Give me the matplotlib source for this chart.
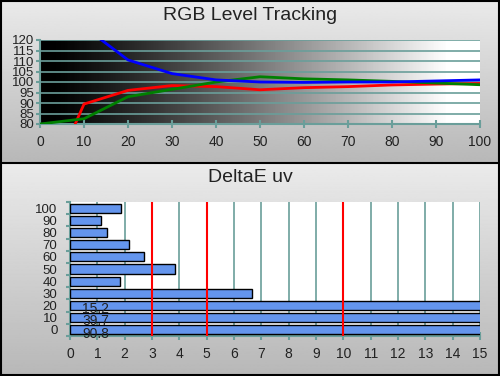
import numpy as np
import matplotlib

matplotlib.use("Agg")
import matplotlib.pyplot as plt

plt.rcParams["font.family"] = ["Liberation Sans", "DejaVu Sans"]

# ---- data ----
levels = [0, 10, 20, 30, 40, 50, 60, 70, 80, 90, 100]
red = [42, 89.5, 96, 98.3, 97.8, 96.3, 97.3, 97.8, 98.6, 99.0, 99.3]
green = [80, 82.5, 93, 96.5, 100, 102.5, 101.5, 101, 100.3, 99.5, 98.7]
blue = [140, 126.3, 110.5, 104, 101, 100, 99.8, 100, 100, 100.5, 101]

de_levels = ["0", "10", "20", "30", "40", "50", "60", "70", "80", "90", "100"]
de_values = [90.8, 39.7, 15.2, 6.67, 1.83, 3.85, 2.72, 2.17, 1.37, 1.15, 1.87]
ref_lines = [3, 5, 10]

TEAL = "#6a9e9a"

fig = plt.figure(figsize=(5.0, 3.76), dpi=100)

# ---- panel backgrounds (vertical gray gradients) ----
bg = fig.add_axes([0, 0, 1, 1], zorder=-10)
bg.set_xlim(0, 1)
bg.set_ylim(0, 1)
bg.axis("off")
split = 1 - 163 / 376
grad = np.linspace(0.72, 0.92, 256)[:, None]
bg.imshow(grad, cmap="gray", vmin=0, vmax=1, extent=[0, 1, split, 1],
          aspect="auto", origin="lower")
bg.imshow(grad, cmap="gray", vmin=0, vmax=1, extent=[0, 1, 0, split],
          aspect="auto", origin="lower")
bg.plot([0, 1], [split, split], color="black", lw=1.5)
for s in ([0.002, 0.002], [0.998, 0.998]):
    bg.plot(s, [0, 1], color="black", lw=1.5)
bg.plot([0, 1], [0.002, 0.002], color="black", lw=1.5)
bg.plot([0, 1], [0.998, 0.998], color="black", lw=1.5)

fig.text(0.5, 0.958, "RGB Level Tracking", ha="center", va="center",
         fontsize=14, color="#222222")
fig.text(0.5, 0.527, "DeltaE uv", ha="center", va="center",
         fontsize=14, color="#222222")

# ---- top: RGB level tracking ----
ax1 = fig.add_axes([0.08, 1 - 124 / 376, 0.88, 84 / 376])
xgrad = np.clip(np.linspace(-0.03, 1.08, 256), 0, 1) ** 1.15
ax1.imshow(xgrad[None, :], cmap="gray", vmin=0, vmax=1,
           extent=[0, 100, 80, 120], aspect="auto", zorder=0)
ax1.plot(levels, red, color="#ff0000", lw=2, zorder=3)
ax1.plot(levels, green, color="#008000", lw=2, zorder=3)
ax1.plot(levels, blue, color="#0000ff", lw=2, zorder=3)
ax1.set_xlim(0, 100)
ax1.set_ylim(80, 120)
ax1.set_xticks(levels)
ax1.set_yticks(np.arange(80, 121, 5))
ax1.yaxis.grid(True, color=TEAL, lw=1.2)
ax1.set_axisbelow(False)
for ln in ax1.get_ygridlines():
    ln.set_zorder(1)
for sp in ["top", "right"]:
    ax1.spines[sp].set_visible(False)
for sp in ["left", "bottom"]:
    ax1.spines[sp].set_color(TEAL)
    ax1.spines[sp].set_linewidth(1.5)
ax1.tick_params(axis="x", direction="inout", length=6, width=1.5, color=TEAL,
                labelsize=10, pad=5, labelcolor="#222222")
ax1.tick_params(axis="y", direction="out", length=3, width=1.5, color=TEAL,
                labelsize=9.5, pad=1, labelcolor="#222222")

# ---- bottom: DeltaE uv ----
ax2 = fig.add_axes([0.14, 1 - 336 / 376, 0.82, 134 / 376])
ax2.set_facecolor("white")
ypos = np.arange(len(de_levels))
ax2.barh(ypos, de_values, height=0.74, color="#6495ed", edgecolor="black",
         lw=1, zorder=3)
for xv in range(1, 16):
    ax2.axvline(xv, color=TEAL, lw=1.2, zorder=1)
for xv in ref_lines:
    ax2.axvline(xv, color="#ff0000", lw=1.5, zorder=4)
for y, v in zip(ypos, de_values):
    if v > 15:
        ax2.text(0.45, y - 0.3, f"{v:.1f}", ha="left", va="center",
                 fontsize=10, color="#222222", zorder=5)
ax2.set_xlim(0, 15)
ax2.set_ylim(-0.5, len(de_levels) - 0.5)
ax2.set_xticks(range(0, 16))
ax2.set_yticks(ypos)
ax2.set_yticklabels(de_levels)
ax2.set_yticks(np.arange(-0.5, len(de_levels)), minor=True)
for sp in ["top", "right"]:
    ax2.spines[sp].set_visible(False)
for sp in ["left", "bottom"]:
    ax2.spines[sp].set_color(TEAL)
    ax2.spines[sp].set_linewidth(1.5)
ax2.tick_params(axis="x", direction="inout", length=6, width=1.5, color=TEAL,
                labelsize=10, pad=5, labelcolor="#222222")
ax2.tick_params(axis="y", which="major", length=0, labelsize=9.5, pad=9,
                labelcolor="#222222")
ax2.tick_params(axis="y", which="minor", direction="out", length=3, width=1.5,
                color=TEAL)

fig.savefig("out.png", dpi=100)
